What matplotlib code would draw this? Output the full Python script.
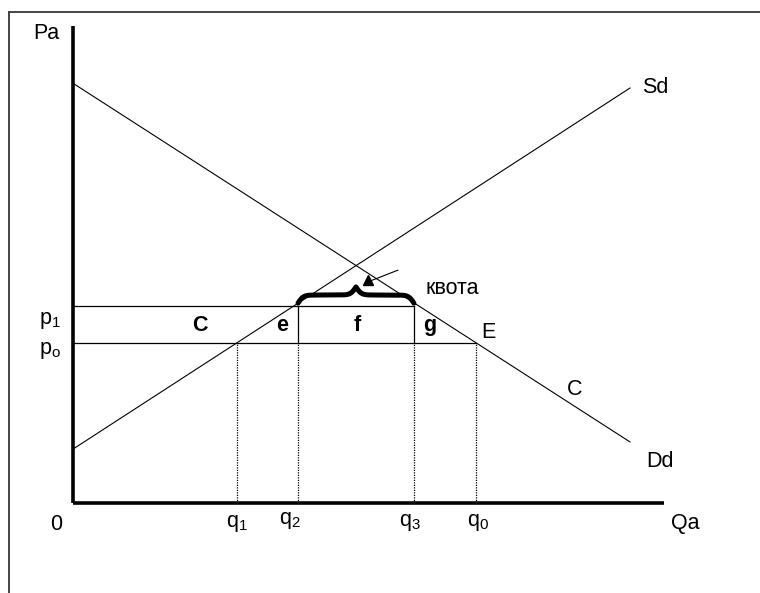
import matplotlib.pyplot as plt
import numpy as np
from matplotlib.lines import Line2D

plt.rcParams['font.family'] = ['Liberation Sans', 'DejaVu Sans']
plt.rcParams['mathtext.fontset'] = 'custom'
plt.rcParams['mathtext.rm'] = 'Liberation Sans'
plt.rcParams['mathtext.bf'] = 'Liberation Sans:bold'

# Линии спроса и предложения (Q, P)
demand_q = [0, 100]
demand_p = [88.0, 12.8]
supply_q = [0, 100]
supply_p = [11.3, 87.0]

# Цены и объёмы
p0 = 33.5
p1 = 41.3
q1, q2, q3, q0 = 29.4, 40.4, 61.2, 72.4

fig = plt.figure(figsize=(7.6, 5.93), dpi=100)
ax = fig.add_axes([0, 0, 1, 1])
ax.set_xlim(-73 / 5.57, (760 - 73) / 5.57)
ax.set_ylim(-90 / 4.77, (593 - 90) / 4.77)
ax.axis('off')

# рамка
fig.add_artist(Line2D([9 / 760, 1], [1 - 12 / 593] * 2, color='#444444', lw=1.4))
fig.add_artist(Line2D([9 / 760] * 2, [0, 1 - 12 / 593], color='#444444', lw=1.4))

# оси
ax.plot([0, 0], [0, 100], color='black', lw=2.6, solid_capstyle='butt')
ax.plot([0, 106.1], [0, 0], color='black', lw=2.6, solid_capstyle='butt')

ax.plot(demand_q, demand_p, color='black', lw=0.8)
ax.plot(supply_q, supply_p, color='black', lw=0.8)

# горизонтали цен
ax.plot([0, q3], [p1, p1], color='black', lw=0.9)
ax.plot([0, q0], [p0, p0], color='black', lw=0.9)

# вертикали
for q in [q1, q2, q3, q0]:
    ax.plot([q, q], [0, p0], color='black', lw=0.9, ls=(0, (1, 1)))
for q in [q2, q3]:
    ax.plot([q, q], [p0, p1], color='black', lw=0.9)

# фигурная скобка (квота)
t = np.linspace(0, 1, 200)
half = 1 / (1 + np.exp(-22 * t)) + 1 / (1 + np.exp(-22 * (t - 1)))
yb = np.concatenate([half, half[-2::-1]])
xb = np.linspace(q2, q3, len(yb))
ax.plot(xb, 41.9 + (yb - 0.5) * 3.4, color='black', lw=3.6, solid_capstyle='round')

# стрелка
ax.plot([52.4, 58.3], [46.1, 48.8], color='black', lw=0.8)
ax.plot([53.0], [46.7], marker='^', color='black', markersize=7.5)

fs = 15.5
ax.text(-4.85, 98.5, 'Pa', fontsize=fs, ha='center', va='center')
ax.text(-4.1, 38.2, r'$\mathrm{p_1}$', fontsize=fs, ha='center', va='center')
ax.text(-4.1, 31.9, r'$\mathrm{p_o}$', fontsize=fs, ha='center', va='center')
ax.text(-3.05, -4.6, '0', fontsize=fs, ha='center', va='center')
ax.text(q1, -4.4, r'$\mathrm{q_1}$', fontsize=fs, ha='center', va='center')
ax.text(q2 - 1.5, -3.6, r'$\mathrm{q_2}$', fontsize=fs, ha='center', va='center')
ax.text(q3 - 0.7, -4.0, r'$\mathrm{q_3}$', fontsize=fs, ha='center', va='center')
ax.text(q0 + 0.3, -4.0, r'$\mathrm{q_0}$', fontsize=fs, ha='center', va='center')
ax.text(109.9, -4.4, 'Qa', fontsize=fs, ha='center', va='center')
ax.text(104.5, 87.2, 'Sd', fontsize=fs, ha='center', va='center')
ax.text(90.1, 23.7, 'C', fontsize=fs, ha='center', va='center')
ax.text(105.4, 8.8, 'Dd', fontsize=fs, ha='center', va='center')
ax.text(74.5, 35.8, 'E', fontsize=fs, ha='center', va='center')
ax.text(68.0, 44.9, 'квота', fontsize=fs, ha='center', va='center')

for s, q in [('C', 22.8), ('e', 37.5), ('f', 51.0), ('g', 64.1)]:
    ax.text(q, 37.3, s, fontsize=fs, fontweight='bold', ha='center', va='center')

fig.savefig('out.png', dpi=100)
